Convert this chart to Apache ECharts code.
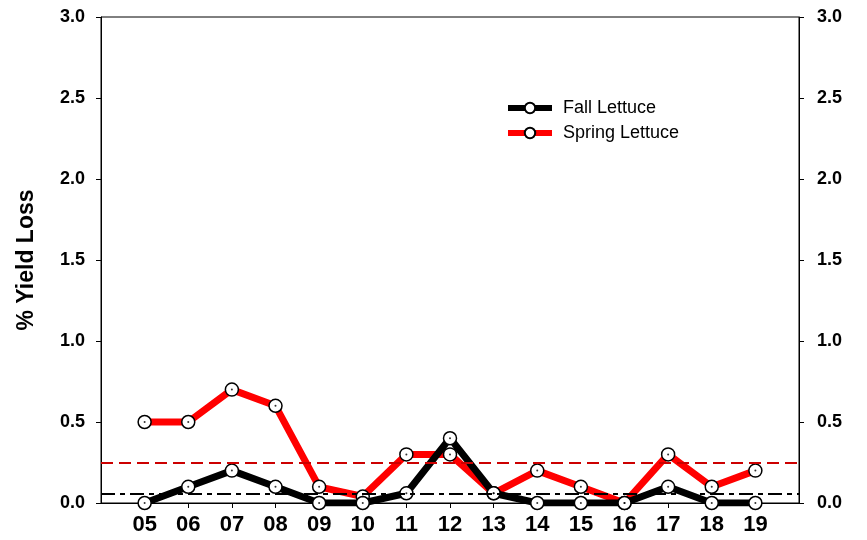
<!DOCTYPE html>
<html>
<head>
<meta charset="utf-8">
<script src="https://cdn.jsdelivr.net/npm/echarts@6/dist/echarts.min.js"></script>
<style>
html, body { margin: 0; padding: 0; background: #fff; }
#chart { width: 867px; height: 540px; }
</style>
</head>
<body>
<div id="chart"></div>
<script>
var years = ['', '05', '06', '07', '08', '09', '10', '11', '12', '13', '14', '15', '16', '17', '18', '19', ''];
var fallLettuce = [null, 0, 0.1, 0.2, 0.1, 0, 0, 0.06, 0.4, 0.06, 0, 0, 0, 0.1, 0, 0, null];
var springLettuce = [null, 0.5, 0.5, 0.7, 0.6, 0.1, 0.04, 0.3, 0.3, 0.06, 0.2, 0.1, 0, 0.3, 0.1, 0.2, null];
var fallMean = 0.055;
var springMean = 0.253;

var dom = document.getElementById('chart');
var myChart = echarts.init(dom);
var font = 'Liberation Sans, Arial, sans-serif';

var yAxisBase = function (pos) {
    return {
        type: 'value',
        position: pos,
        min: 0,
        max: 3,
        interval: 0.5,
        splitLine: { show: false },
        axisLine: { show: true, lineStyle: { color: '#000', width: 1 } },
        axisTick: { show: true, length: 5, lineStyle: { color: '#000' } },
        axisLabel: {
            color: '#000',
            fontFamily: font,
            fontWeight: 'bold',
            fontSize: 18,
            margin: pos === 'left' ? 16 : 18,
            formatter: function (v) { return v.toFixed(1); }
        }
    };
};

var leftAxis = yAxisBase('left');
leftAxis.name = '% Yield Loss';
leftAxis.nameLocation = 'middle';
leftAxis.nameGap = 63;
leftAxis.nameTextStyle = { color: '#000', fontFamily: font, fontWeight: 'bold', fontSize: 23 };

var markerStyle = { color: '#fff', borderColor: '#000', borderWidth: 1.5 };

var option = {
    animation: false,
    grid: {
        left: 101, right: 68, top: 17, bottom: 37,
        show: true, borderColor: '#000', borderWidth: 1
    },
    legend: {
        orient: 'vertical',
        left: 500,
        top: 94,
        itemWidth: 44,
        itemHeight: 13,
        itemGap: 7,
        lineStyle: { width: 6 },
        textStyle: { color: '#000', fontFamily: font, fontSize: 18, padding: [0, 0, 0, 6] },
        data: ['Fall Lettuce', 'Spring Lettuce']
    },
    xAxis: {
        type: 'category',
        data: years,
        boundaryGap: false,
        axisLine: { lineStyle: { color: '#000', width: 1 } },
        axisTick: {
            length: 5,
            lineStyle: { color: '#000' },
            interval: function (i) { return i > 0 && i < years.length - 1; }
        },
        axisLabel: {
            interval: 0,
            color: '#000',
            fontFamily: font,
            fontWeight: 'bold',
            fontSize: 22,
            margin: 11
        }
    },
    yAxis: [leftAxis, yAxisBase('right')],
    series: [
        {
            name: 'Fall Lettuce',
            type: 'line',
            data: fallLettuce,
            symbol: 'circle',
            symbolSize: 13,
            showSymbol: true,
            lineStyle: { color: '#000', width: 7 },
            itemStyle: markerStyle,
            z: 3,
            markLine: {
                silent: true,
                symbol: 'none',
                label: { show: false },
                lineStyle: { color: '#000', width: 2, type: [14, 5, 5, 5] },
                data: [{ yAxis: fallMean }]
            }
        },
        {
            name: 'Spring Lettuce',
            type: 'line',
            data: springLettuce,
            symbol: 'circle',
            symbolSize: 13,
            showSymbol: true,
            lineStyle: { color: '#ff0000', width: 7 },
            itemStyle: markerStyle,
            z: 2,
            markLine: {
                silent: true,
                symbol: 'none',
                label: { show: false },
                lineStyle: { color: '#cc0000', width: 2, type: [12, 6] },
                data: [{ yAxis: springMean }]
            }
        },
        {
            // small centre dots in the markers
            type: 'scatter',
            data: fallLettuce,
            symbolSize: 2,
            itemStyle: { color: '#000' },
            silent: true,
            z: 5
        },
        {
            type: 'scatter',
            data: springLettuce,
            symbolSize: 2,
            itemStyle: { color: '#000' },
            silent: true,
            z: 5
        }
    ]
};

myChart.setOption(option);
</script>
</body>
</html>
